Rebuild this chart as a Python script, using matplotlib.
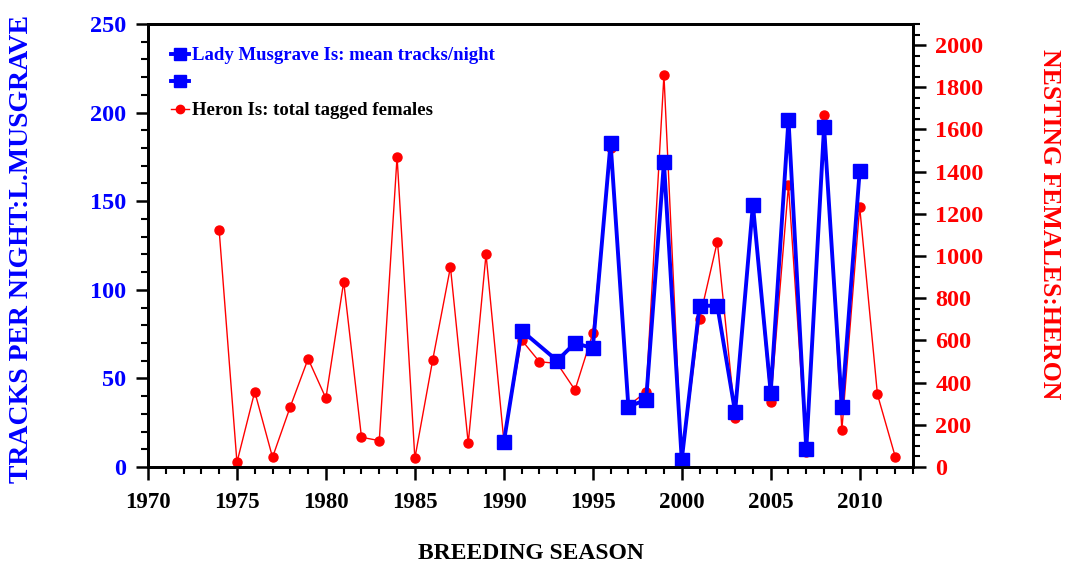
import numpy as np
import matplotlib
matplotlib.use("Agg")
import matplotlib.pyplot as plt
from matplotlib.lines import Line2D
from matplotlib.ticker import MultipleLocator

plt.rcParams["font.family"] = ["Liberation Serif", "DejaVu Serif"]
plt.rcParams["font.weight"] = "bold"
plt.rcParams["axes.labelweight"] = "bold"

# Lady Musgrave Is: mean tracks per night (left axis)
lm_years = [1990, 1991, 1993, 1994, 1995, 1996, 1997, 1998, 1999, 2000,
            2001, 2002, 2003, 2004, 2005, 2006, 2007, 2008, 2009, 2010]
lm_tracks = [14, 77, 60, 70, 67, 183, 34, 38, 172, 4,
             91, 91, 31, 148, 42, 196, 10, 192, 34, 167]

# Heron Is: total tagged females (right axis)
heron_years = list(range(1974, 2013))
heron_females = [1123, 22, 357, 46, 286, 513, 326, 878, 141, 125,
                 1471, 41, 506, 948, 112, 1009, 125, 602, 499, 491,
                 365, 633, 1510, 290, 357, 1858, 30, 701, 1068, 234,
                 1226, 310, 1336, 73, 1670, 175, 1234, 344, 49]

blue = "#0000ff"
red = "#ff0000"

fig = plt.figure(figsize=(10.7, 5.7), dpi=100)
ax = fig.add_axes([0.1383, 0.1807, 0.715, 0.7772])
ax2 = ax.twinx()
ax.set_zorder(ax2.get_zorder() + 1)
ax.patch.set_visible(False)

ax2.plot(heron_years, heron_females, color=red, lw=1.0, marker="o",
         ms=6.5, mec=red, mfc=red)
ax.plot(lm_years, lm_tracks, color=blue, lw=2.8, marker="s",
        ms=9.5, mec=blue, mfc=blue)

ax.set_xlim(1970, 2013)
ax.set_ylim(0, 250)
ax2.set_ylim(0, 2100)

ax.xaxis.set_major_locator(MultipleLocator(5))
ax.xaxis.set_minor_locator(MultipleLocator(1))
ax.yaxis.set_major_locator(MultipleLocator(50))
ax.yaxis.set_minor_locator(MultipleLocator(10))
ax2.yaxis.set_major_locator(MultipleLocator(200))
ax2.yaxis.set_minor_locator(MultipleLocator(50))
ax2.set_yticks(np.arange(0, 2001, 200))

for a in (ax, ax2):
    for s in a.spines.values():
        s.set_linewidth(2.0)
    a.tick_params(which="major", length=9, width=1.8, direction="out")
    a.tick_params(which="minor", length=5, width=1.5, direction="out")

ax.tick_params(axis="x", labelsize=16.5, pad=9)
ax.tick_params(axis="y", labelsize=17.5, labelcolor=blue, pad=7)
ax2.tick_params(axis="y", labelsize=17.5, labelcolor=red, pad=7)

ax.set_xlabel("BREEDING SEASON", fontsize=17)
ax.xaxis.set_label_coords(0.5, -0.172)
ax.set_ylabel("TRACKS PER NIGHT:L.MUSGRAVE", fontsize=20, color=blue,
              va="center")
ax.yaxis.set_label_coords(-0.165, 0.492)
ax2.set_ylabel("NESTING FEMALES:HERON", fontsize=18.5, color=red,
               rotation=-90, va="center")
ax2.yaxis.set_label_coords(1.179, 0.549)

handles = [
    Line2D([], [], color=blue, lw=2.8, marker="s", ms=9),
    Line2D([], [], color=blue, lw=2.8, marker="s", ms=9),
    Line2D([], [], color=red, lw=1.0, marker="o", ms=6),
]
labels = ["Lady Musgrave Is: mean tracks/night", " ",
          "Heron Is: total tagged females"]
leg = ax.legend(handles, labels, loc="upper left", frameon=False,
                fontsize=13.5, handlelength=1.0, handletextpad=0.15,
                labelspacing=0.55, borderaxespad=0.6,
                bbox_to_anchor=(0.005, 0.99))
leg.get_texts()[0].set_color(blue)
leg.get_texts()[2].set_color("black")

fig.savefig("out.png", dpi=100)
